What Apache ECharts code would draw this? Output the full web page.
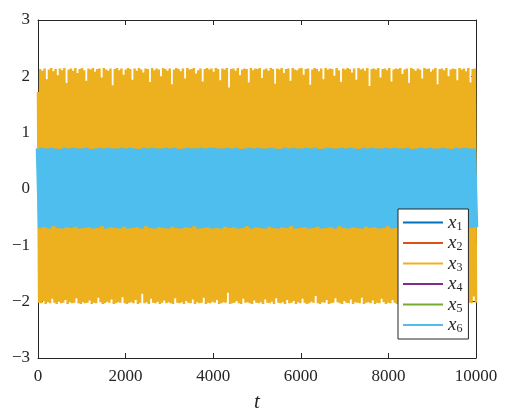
<!DOCTYPE html>
<html>
<head>
<meta charset="utf-8">
<script src="https://cdn.jsdelivr.net/npm/echarts@6/dist/echarts.min.js"></script>
<style>
  html, body { margin: 0; padding: 0; background: #fff; }
  #main { width: 524px; height: 412px; }
</style>
</head>
<body>
<div id="main"></div>
<script>
// time span and tick labels
var tMax = 10000;
var xTicks = [0, 2000, 4000, 6000, 8000, 10000];
var yTicks = [-3, -2, -1, 0, 1, 2, 3];
var names = ['x1', 'x2', 'x3', 'x4', 'x5', 'x6'];

// x3: successive maxima / minima of the oscillation
var x3Peaks = [
  1.72, 2.13, 2.10, 2.14, 1.95, 2.12, 2.15, 2.09, 2.13, 2.02, 2.14, 2.11, 2.15, 1.88, 2.12, 2.14, 2.10, 2.15, 2.06, 2.13,
  2.15, 2.11, 1.92, 2.14, 2.12, 2.15, 2.08, 2.13, 2.14, 1.98, 2.15, 2.12, 2.10, 2.14, 1.84, 2.13, 2.15, 2.11, 2.14, 2.03,
  2.12, 2.15, 2.13, 1.94, 2.14, 2.10, 2.15, 2.12, 2.07, 2.14, 2.13, 1.90, 2.15, 2.11, 2.14, 2.12, 2.00, 2.15, 2.13, 2.10,
  2.14, 1.86, 2.12, 2.15, 2.13, 2.09, 2.14, 1.96, 2.15, 2.12, 2.13, 2.15, 2.05, 2.11, 2.14, 1.91, 2.13, 2.15, 2.12, 2.14,
  2.08, 2.15, 2.13, 1.93, 2.14, 2.12, 2.15, 1.80, 2.13, 2.14, 2.10, 2.15, 2.02, 2.12, 2.14, 2.13, 1.89, 2.15, 2.11, 2.14,
  2.13, 2.15, 1.97, 2.12, 2.14, 2.10, 2.15, 2.13, 1.87, 2.14, 2.12, 2.15, 2.06, 2.13, 2.14, 1.92, 2.15, 2.12, 2.11, 2.14,
  2.15, 2.03, 2.13, 2.14, 1.85, 2.12, 2.15, 2.13, 2.09, 2.14, 1.95, 2.15, 2.12, 2.14, 2.13, 2.01, 2.15, 2.11, 1.90, 2.14,
  2.12, 2.15, 2.13, 2.07, 2.14, 1.94, 2.15, 2.12, 2.14, 2.10, 2.15, 1.83, 2.13, 2.14, 2.12, 2.15, 1.98, 2.13, 2.14, 2.11,
  2.15, 1.91, 2.12, 2.14, 2.13, 2.15, 2.04, 2.12, 2.14, 1.88, 2.15, 2.13, 2.10, 2.14, 2.12, 1.96, 2.15, 2.13, 2.14, 2.08,
  2.12, 2.15, 1.86, 2.13, 2.14, 2.11, 2.15, 2.00, 2.12, 2.14, 2.13, 1.93, 2.15, 2.12, 2.14, 2.09, 2.15, 1.89, 2.13, 2.14
];
var x3Troughs = [
  -2.02, -2.03, -1.99, -2.04, -2.01, -2.03, -1.95, -2.02, -2.04, -2.00, -2.03, -2.02, -1.97, -2.04, -2.01, -2.03, -2.02, -1.94, -2.03, -2.04,
  -2.01, -2.03, -2.02, -1.98, -2.04, -2.02, -2.03, -1.93, -2.01, -2.04, -2.03, -2.00, -2.02, -1.96, -2.04, -2.03, -2.01, -2.02, -1.92, -2.03,
  -2.04, -2.02, -2.01, -2.03, -1.97, -2.04, -2.02, -1.86, -2.03, -2.01, -2.04, -1.95, -2.02, -2.03, -2.00, -2.04, -2.02, -1.98, -2.03, -2.01,
  -2.03, -2.04, -1.94, -2.02, -2.03, -2.01, -2.04, -1.99, -2.02, -2.03, -1.96, -2.04, -2.01, -2.03, -2.02, -1.93, -2.04, -2.02, -2.03, -2.00,
  -2.02, -1.97, -2.04, -2.03, -2.01, -2.02, -1.84, -2.04, -2.03, -2.02, -1.99, -2.03, -2.04, -1.95, -2.02, -2.01, -2.03, -2.04, -1.98, -2.02,
  -2.03, -2.01, -2.04, -1.96, -2.02, -2.03, -2.00, -2.04, -1.94, -2.02, -2.03, -2.01, -2.04, -1.97, -2.03, -2.02, -1.99, -2.04, -2.01, -2.03,
  -1.95, -2.02, -2.04, -2.03, -2.00, -2.02, -1.90, -2.03, -2.04, -2.01, -2.02, -1.97, -2.04, -2.03, -2.02, -1.94, -2.01, -2.03, -2.04, -1.99,
  -2.02, -2.03, -1.96, -2.04, -2.01, -2.02, -2.03, -1.93, -2.04, -2.02, -2.01, -2.03, -1.98, -2.04, -2.02, -2.03, -1.95, -2.01, -2.04, -2.02,
  -2.03, -1.97, -2.02, -2.04, -2.01, -2.03, -2.00, -1.94, -2.04, -2.02, -2.03, -2.01, -1.96, -2.04, -2.03, -2.02, -1.99, -2.03, -2.04, -1.95,
  -2.02, -2.03, -2.01, -1.97, -2.04, -2.02, -2.03, -1.93, -2.01, -2.04, -2.02, -1.98, -2.03, -2.04, -2.01, -1.96, -2.02, -2.03, -1.91, -2.02
];

// x6: the inner band
var x6Peaks = [
  0.72, 0.73, 0.72, 0.73, 0.72, 0.71, 0.73, 0.72, 0.73, 0.72, 0.72, 0.73, 0.71, 0.72, 0.73, 0.72, 0.73, 0.72, 0.72, 0.73,
  0.72, 0.73, 0.72, 0.71, 0.73, 0.72, 0.73, 0.72, 0.72, 0.73, 0.72, 0.73, 0.71, 0.72, 0.73, 0.72, 0.72, 0.73, 0.72, 0.73,
  0.73, 0.72, 0.72, 0.73, 0.72, 0.73, 0.71, 0.72, 0.73, 0.72, 0.73, 0.72, 0.72, 0.73, 0.72, 0.71, 0.73, 0.72, 0.73, 0.72,
  0.72, 0.73, 0.72, 0.73, 0.71, 0.72, 0.73, 0.72, 0.72, 0.73, 0.72, 0.73, 0.72, 0.71, 0.73, 0.72, 0.73, 0.72, 0.72, 0.73,
  0.72, 0.73, 0.72, 0.72, 0.73, 0.71, 0.72, 0.73, 0.72, 0.73, 0.72, 0.72, 0.73, 0.72, 0.71, 0.73, 0.72, 0.73, 0.72, 0.72
];
var x6Troughs = [
  -0.69, -0.68, -0.70, -0.66, -0.69, -0.70, -0.68, -0.69, -0.67, -0.70, -0.69, -0.68, -0.70, -0.69, -0.66, -0.70, -0.68, -0.69, -0.70, -0.67,
  -0.70, -0.69, -0.68, -0.70, -0.66, -0.69, -0.70, -0.68, -0.69, -0.70, -0.67, -0.69, -0.70, -0.68, -0.69, -0.66, -0.70, -0.69, -0.68, -0.70,
  -0.69, -0.70, -0.67, -0.69, -0.68, -0.70, -0.69, -0.66, -0.70, -0.68, -0.69, -0.70, -0.67, -0.69, -0.70, -0.68, -0.69, -0.66, -0.70, -0.69,
  -0.68, -0.70, -0.69, -0.67, -0.70, -0.69, -0.68, -0.70, -0.66, -0.69, -0.70, -0.68, -0.69, -0.70, -0.67, -0.69, -0.68, -0.70, -0.69, -0.66,
  -0.70, -0.69, -0.68, -0.70, -0.67, -0.69, -0.70, -0.68, -0.66, -0.69, -0.70, -0.68, -0.69, -0.67, -0.70, -0.69, -0.68, -0.70, -0.69, -0.68
];

// the other states are hidden under x3 / x6 in the picture
var x1Data = [];
var x2Data = [];
var x4Data = [];
var x5Data = [];

var colors = ['#0072BD', '#D95319', '#EDB120', '#7E2F8E', '#77AC30', '#4DBEEE'];
var axisColor = '#262626';
var font = '"Liberation Serif", "DejaVu Serif", serif';

// peak, trough, peak, trough ... spread evenly over [0, tMax]
function oscillation(peaks, troughs) {
  var vals = [];
  for (var i = 0; i < peaks.length; i++) {
    vals.push(peaks[i]);
    if (i < troughs.length) vals.push(troughs[i]);
  }
  var step = tMax / (vals.length - 1);
  return vals.map(function (v, i) { return [i * step, v]; });
}

function minus(v) { return String(v).replace('-', '\u2212'); }

var myChart = echarts.init(document.getElementById('main'), null, { renderer: 'canvas' });

function lineSeries(name, data, color, width) {
  return {
    name: name,
    type: 'line',
    data: data,
    showSymbol: false,
    symbol: 'none',
    silent: true,
    clip: true,
    lineStyle: { color: color, width: width, join: 'bevel' },
    itemStyle: { color: color },
    animation: false
  };
}

var baseX = {
  type: 'value', min: 0, max: tMax, interval: xTicks[1] - xTicks[0],
  splitLine: { show: false },
  axisLine: { show: true, onZero: false, lineStyle: { color: axisColor, width: 1 } },
  axisTick: { show: true, inside: true, length: 5, lineStyle: { color: axisColor } }
};
var baseY = {
  type: 'value', min: yTicks[0], max: yTicks[yTicks.length - 1], interval: 1,
  splitLine: { show: false },
  axisLine: { show: true, onZero: false, lineStyle: { color: axisColor, width: 1 } },
  axisTick: { show: true, inside: true, length: 5, lineStyle: { color: axisColor } }
};

myChart.setOption({
  backgroundColor: '#fff',
  animation: false,
  grid: { left: 38, right: 48, top: 20, bottom: 54, containLabel: false, outerBoundsMode: 'none' },
  legend: {
    data: names,
    orient: 'vertical',
    left: 398,
    top: 209,
    width: 69,
    padding: [4, 6, 4, 5],
    itemGap: 1,
    itemWidth: 40,
    itemHeight: 2,
    icon: 'rect',
    backgroundColor: '#fff',
    borderColor: axisColor,
    borderWidth: 1,
    borderRadius: 0,
    selectedMode: false,
    formatter: function (name) { return '{v|x}{s|' + name.slice(1) + '}'; },
    textStyle: {
      color: axisColor,
      rich: {
        v: { fontFamily: font, fontStyle: 'italic', fontSize: 19, lineHeight: 20, verticalAlign: 'middle' },
        s: { fontFamily: font, fontSize: 12, lineHeight: 11, verticalAlign: 'bottom' }
      }
    }
  },
  xAxis: [
    Object.assign({}, baseX, {
      position: 'bottom',
      name: 't',
      nameLocation: 'middle',
      nameGap: 34,
      nameTextStyle: { fontFamily: font, fontStyle: 'italic', fontSize: 21, color: axisColor },
      axisLabel: { margin: 10, fontFamily: font, fontSize: 17, color: axisColor, formatter: function (v) { return String(v); } }
    }),
    Object.assign({}, baseX, { position: 'top', axisLabel: { show: false } })
  ],
  yAxis: [
    Object.assign({}, baseY, {
      position: 'left',
      axisLabel: { margin: 8, fontFamily: font, fontSize: 17, color: axisColor, formatter: minus }
    }),
    Object.assign({}, baseY, { position: 'right', axisLabel: { show: false } })
  ],
  series: [
    lineSeries('x1', x1Data, colors[0], 1),
    lineSeries('x2', x2Data, colors[1], 1),
    lineSeries('x3', oscillation(x3Peaks, x3Troughs), colors[2], 2.5),
    lineSeries('x4', x4Data, colors[3], 1),
    lineSeries('x5', x5Data, colors[4], 1),
    lineSeries('x6', oscillation(x6Peaks, x6Troughs), colors[5], 4.6)
  ]
});
</script>
</body>
</html>
